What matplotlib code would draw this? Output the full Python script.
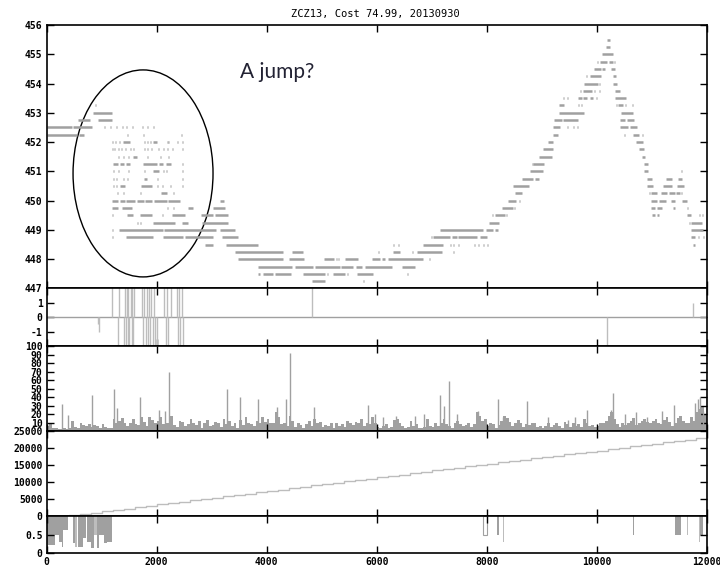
import numpy as np
import matplotlib
matplotlib.use('Agg')
import matplotlib.pyplot as plt
from matplotlib.patches import Ellipse

plt.rcParams['axes.unicode_minus'] = False

# ---- data ----
title = 'ZCZ13, Cost 74.99, 20130930'

# price levels and their runs (x0, x1) in sample index
price_runs = {
    455.5: [(10194, 10242)],
    455.25: [(10175, 10242)],
    455.0: [(10091, 10303)],
    454.75: [(10000, 10015), (10061, 10182), (10230, 10303), (10320, 10335)],
    454.5: [(9951, 10073), (10103, 10151), (10261, 10333)],
    454.25: [(9800, 9815), (9879, 10073), (10303, 10351)],
    454.0: [(9776, 10030), (10040, 10055), (10303, 10376)],
    453.75: [(9700, 9715), (9758, 9909), (9955, 9970), (10040, 10055), (10333, 10424)],
    453.5: [(9394, 9410), (9467, 9482), (9655, 9727), (9758, 9830), (9879, 9940),
            (9985, 10000), (10333, 10527)],
    453.25: [(880, 900), (9315, 9412), (9655, 9670), (9715, 9730), (10350, 10365),
             (10394, 10473), (10515, 10530), (10560, 10575), (10636, 10650)],
    453.0: [(836, 1181), (9315, 9770), (10442, 10654)],
    452.75: [(575, 787), (939, 1181), (9224, 9364), (9394, 9667), (10424, 10515),
             (10545, 10679)],
    452.5: [(0, 454), (484, 818), (1042, 1060), (1150, 1168), (1260, 1278), (1363, 1381),
            (1442, 1460), (1545, 1563), (1727, 1745), (1818, 1836), (1927, 1945),
            (9200, 9333), (9467, 9482), (9575, 9590), (9636, 9651), (10424, 10576),
            (10606, 10739)],
    452.25: [(0, 545), (593, 678), (1454, 1472), (1745, 1763), (2442, 2460), (9200, 9303),
             (10490, 10505), (10667, 10770), (10818, 10833)],
    452.0: [(1181, 1196), (1242, 1257), (1315, 1330), (1393, 1515), (1769, 1784),
            (1818, 1833), (1878, 1893), (1939, 2000), (2181, 2196), (2212, 2227),
            (2363, 2378), (2454, 2469), (9121, 9212), (10709, 10848)],
    451.75: [(1181, 1196), (1230, 1245), (1290, 1305), (1350, 1365), (1424, 1439),
             (1515, 1530), (1563, 1578), (1769, 1784), (1830, 1845), (1890, 1905),
             (1960, 1975), (2030, 2045), (2121, 2136), (2181, 2196), (2272, 2287),
             (2454, 2469), (9030, 9212), (10770, 10860)],
    451.5: [(1302, 1317), (1393, 1408), (1484, 1499), (1563, 1640), (1818, 1833),
            (1908, 1923), (2060, 2075), (2212, 2227), (8952, 9194), (10818, 10879)],
    451.25: [(1211, 1300), (1330, 1400), (1440, 1515), (1745, 1999), (2048, 2120),
             (2170, 2254), (2454, 2469), (8818, 8833), (8850, 9048), (10867, 10927)],
    451.0: [(1211, 1226), (1290, 1305), (1484, 1499), (1769, 1784), (1939, 2048),
            (2109, 2124), (2163, 2178), (2454, 2469), (8788, 9030), (10867, 10927),
            (11527, 11542)],
    450.75: [(1211, 1226), (1260, 1275), (1393, 1408), (1466, 1481), (1769, 1818),
             (1908, 1923), (1999, 2014), (2454, 2469), (8649, 8849), (8879, 8958),
             (10909, 11000), (11260, 11376), (11473, 11545)],
    450.5: [(1211, 1226), (1260, 1275), (1333, 1424), (1708, 1908), (2012, 2027),
            (2090, 2105), (2242, 2257), (2454, 2469), (8485, 8776), (10921, 11018),
            (11212, 11376), (11455, 11588)],
    450.25: [(1284, 1299), (1393, 1408), (1696, 1711), (2078, 2181), (2303, 2318),
             (8515, 8636), (10955, 10970), (10988, 11091), (11164, 11285),
             (11321, 11424), (11442, 11515), (11540, 11555)],
    450.0: [(1181, 1300), (1330, 1420), (1450, 1600), (1640, 1760), (1790, 1908),
            (1951, 2180), (2200, 2423), (3151, 3223), (8394, 8527), (8594, 8609),
            (10982, 11091), (11133, 11260), (11352, 11425), (11545, 11648)],
    449.75: [(1181, 1290), (1363, 1545), (2181, 2196), (2303, 2318), (2563, 2666),
             (3030, 3242), (8273, 8485), (8500, 8515), (10988, 11061), (11091, 11182),
             (11382, 11424), (11636, 11651)],
    449.5: [(1193, 1208), (1454, 1575), (1696, 1909), (2090, 2105), (2272, 2514),
            (2805, 3030), (3060, 3303), (8100, 8115), (8150, 8333), (8350, 8365),
            (11000, 11061), (11091, 11130), (11636, 11709), (11865, 11880),
            (11909, 11924)],
    449.25: [(1636, 1651), (1696, 1711), (1939, 2333), (2454, 2575), (2817, 3303),
             (8049, 8230), (11680, 11695), (11709, 11909)],
    449.0: [(1181, 1196), (1321, 2108), (2133, 3078), (3151, 3423), (7151, 7939),
            (7988, 8109), (8151, 8212), (11715, 11939)],
    448.75: [(1193, 1208), (1442, 1927), (2121, 2484), (2514, 3030), (3181, 3484),
             (6988, 7003), (7030, 7333), (7360, 7460), (7485, 7818), (7879, 8012),
             (11715, 11788), (11848, 11863), (11939, 11954)],
    448.5: [(2878, 3030), (3260, 3848), (6303, 6318), (6382, 6397), (6836, 7212),
            (7333, 7348), (7382, 7397), (7485, 7500), (7776, 7791), (7848, 7863),
            (7939, 7954), (8000, 8030), (11757, 11788)],
    448.25: [(3423, 4302), (4453, 4666), (6030, 6045), (6303, 6424), (6636, 6651),
             (6727, 7182), (7394, 7409)],
    448.0: [(3484, 4291), (4412, 4685), (5049, 5224), (5260, 5275), (5300, 5315),
            (5424, 5655), (5921, 6061), (6090, 6150), (6200, 6848), (6951, 6966)],
    447.75: [(3848, 4455), (4515, 4836), (4879, 5333), (5352, 5576), (5618, 5739),
             (5788, 6273), (6455, 6697)],
    447.5: [(3848, 3870), (3940, 4121), (4152, 4437), (4667, 5061), (5090, 5105),
            (5200, 5424), (5461, 5476), (5636, 5939), (6545, 6560)],
    447.25: [(4818, 5061), (5745, 5760)],
}

# jump indicator impulses
jump_x = [927, 957, 1193, 1320, 1424, 1454, 1484, 1527, 1557, 1593, 1739, 1769, 1818,
          1860, 1890, 1951, 2139, 2181, 2254, 2375, 2405, 2454,
          1302, 1405, 1442, 1472, 1502, 1545, 1575, 1757, 1799, 1848, 1878, 1927,
          1969, 1999, 2169, 2212, 2393, 2424, 2472, 4823, 10193, 11757]
jump_val = [-0.5, -1, 3, 3, 3, 3, 3, 3, 3, 3, 3, 3, 3,
            3, 3, 3, 3, 3, 3, 3, 3, 3,
            -3, -3, -3, -3, -3, -3, -3, -3, -3, -3, -3, -3,
            -3, -3, -3, -3, -3, -3, -3, 3, -3, 1]

# volume, one value per 50 samples
vol_vals = [
    6, 10, 4, 3, 2, 2, 3, 2, 3, 12, 5, 3, 9, 7, 6, 8, 5, 7, 6, 4,
    8, 5, 3, 3, 14, 10, 12, 15, 9, 6, 10, 14, 8, 7, 17, 11, 6, 16, 13, 9,
    12, 16, 8, 10, 9, 18, 7, 5, 12, 11, 6, 8, 14, 9, 7, 12, 4, 9, 13, 6,
    7, 11, 9, 5, 14, 8, 12, 6, 9, 4, 13, 7, 16, 10, 8, 6, 12, 9, 17, 11,
    14, 10, 9, 22, 16, 8, 10, 6, 18, 12, 5, 10, 7, 4, 8, 12, 6, 14, 9, 11,
    5, 7, 6, 9, 4, 10, 6, 8, 5, 12, 10, 7, 11, 9, 14, 6, 9, 8, 16, 10,
    5, 3, 6, 8, 4, 5, 13, 14, 9, 6, 4, 5, 12, 6, 8, 4, 3, 5, 14, 6,
    5, 9, 6, 10, 14, 8, 6, 4, 9, 12, 8, 6, 7, 10, 5, 8, 22, 18, 12, 14,
    6, 10, 8, 4, 7, 12, 18, 15, 11, 6, 9, 13, 10, 5, 8, 7, 10, 9, 5, 6,
    4, 6, 9, 5, 7, 10, 6, 4, 11, 8, 5, 9, 6, 8, 5, 14, 9, 6, 7, 5,
    6, 9, 10, 12, 18, 22, 14, 8, 5, 9, 7, 10, 12, 15, 7, 9, 12, 14, 11, 10,
    12, 14, 10, 8, 13, 16, 11, 6, 10, 15, 18, 12, 10, 9, 17, 12, 22, 26, 30, 20,
]
spike_x = [272, 381, 830, 1229, 1284, 1696, 2042, 2150, 2224, 3272, 3514, 3836, 4181,
           4350, 4423, 4866, 5847, 5969, 6108, 6350, 6696, 6866, 7151, 7223, 7314,
           7454, 7848, 8199, 8302, 8726, 9120, 9484, 9605, 9829, 10253, 10302, 10514,
           10708, 10908, 11181, 11411, 11787, 11848, 11878, 11938]
spike_val = [32, 19, 42, 50, 27, 40, 25, 24, 69, 50, 40, 38, 28,
             38, 92, 28, 31, 20, 16, 18, 18, 20, 42, 30, 59,
             20, 24, 38, 17, 35, 17, 13, 17, 25, 25, 45, 20,
             22, 17, 24, 31, 33, 38, 40, 24]

# cumulative count, one value per 200 samples
cum_vals = [0, 0, 250, 600, 1000, 1450, 1800, 2200, 2650, 3000,
            3400, 3850, 4200, 4600, 5050, 5400, 5800, 6250, 6600, 7000,
            7450, 7800, 8200, 8650, 9000, 9400, 9850, 10200, 10600, 11000,
            11450, 11850, 12200, 12600, 13050, 13400, 13800, 14250, 14600, 15000,
            15400, 15800, 16200, 16600, 17000, 17400, 17750, 18150, 18500, 18900,
            19250, 19650, 20050, 20450, 20850, 21300, 21700, 22100, 22500, 22950, 23300]

# fill ratio bars hanging from 1: (x0, x1, value, face)
fill_x0 = [0, 30, 151, 230, 272, 302, 472, 515, 575, 666, 739, 799, 860, 920, 957,
           1042, 1102, 7939, 8194, 8300, 10654, 11424, 11636, 11866, 11880]
fill_x1 = [30, 151, 230, 272, 302, 393, 515, 557, 666, 714, 799, 860, 920, 957, 1042,
           1102, 1187, 8012, 8230, 8310, 10678, 11527, 11650, 11880, 11939]
fill_val = [0.17, 0.23, 0.48, 0.30, 0.17, 0.62, 0.26, 0.17, 0.17, 0.40, 0.30, 0.14,
            0.48, 0.14, 0.48, 0.26, 0.30, 0.48, 0.48, 0.30, 0.48, 0.48, 0.48, 0.30, 0.48]
fill_face = ['d', 'd', 'd', 'd', 'd', 'd', 'd', 'l', 'd', 'd', 'd', 'd', 'l', 'd', 'd',
             'd', 'd', 'w', 'd', 'l', 'd', 'd', 'l', 'l', 'd']

xticks = [0, 2000, 4000, 6000, 8000, 10000, 12000]

# ---- figure ----
gray = '#a0a0a0'
light = '#bdbdbd'
tick_font = {'family': 'DejaVu Sans Mono', 'size': 7, 'weight': 'bold'}

fig = plt.figure(figsize=(7.2, 5.69), dpi=100)
L, W = 0.0649, 0.9167
ax1 = fig.add_axes([L, 0.4930, W, 0.4631])
ax2 = fig.add_axes([L, 0.3919, W, 0.1011])
ax3 = fig.add_axes([L, 0.2425, W, 0.1494])
ax4 = fig.add_axes([L, 0.0931, W, 0.1494])
ax5 = fig.add_axes([L, 0.0281, W, 0.0650])

# price panel
for level, runs in price_runs.items():
    for x0, x1 in runs:
        ax1.hlines(level, x0, max(x1, x0 + 15), color=gray, lw=1.8, capstyle='butt')
ax1.add_patch(Ellipse((1751, 450.93), 2545, 7.07, fill=False, edgecolor='black', lw=1))
ax1.text(3515, 454.4, 'A jump?', fontsize=15, family='Lato', color='#222233',
         va='center', ha='left')
ax1.set_ylim(447, 456)
ax1.set_yticks(range(447, 457))

# jump panel
ax2.axhline(0, color=gray, lw=1)
ax2.vlines(jump_x, 0, jump_val, color=light, lw=1)
ax2.set_ylim(-2, 2)
ax2.set_yticks([-1, 0, 1])

# volume panel
vol_x = np.arange(len(vol_vals)) * 50
ax3.bar(vol_x, vol_vals, width=50, align='edge', color=gray, linewidth=0)
ax3.vlines(spike_x, 0, spike_val, color=gray, lw=1)
ax3.set_ylim(0, 100)
ax3.set_yticks(range(10, 101, 10))

# cumulative panel
cum_x = np.arange(len(cum_vals)) * 200
ax4.step(cum_x, cum_vals, where='post', color=light, lw=1)
ax4.set_ylim(0, 25000)
ax4.set_yticks(range(0, 25001, 5000))

# fill ratio panel
faces = {'d': gray, 'l': light, 'w': 'white'}
for x0, x1, v, f in zip(fill_x0, fill_x1, fill_val, fill_face):
    ax5.bar(x0, v - 1, width=x1 - x0, bottom=1, align='edge', color=faces[f],
            edgecolor=gray if f == 'w' else 'none', linewidth=0.8)
ax5.set_ylim(0, 1)
ax5.set_yticks([0, 0.5])
ax5.set_yticklabels(['0', '0.5'])

for ax in [ax1, ax2, ax3, ax4, ax5]:
    ax.set_xlim(0, 12000)
    ax.set_xticks(xticks)
    ax.tick_params(direction='in', length=5, width=1, top=True, right=True,
                   labelbottom=(ax is ax5), pad=3)
    for s in ax.spines.values():
        s.set_linewidth(1.2)
    for lab in ax.get_yticklabels() + ax.get_xticklabels():
        lab.set_fontproperties(tick_font)
        lab.set_fontsize(7)
        lab.set_fontweight('bold')

fig.text(0.522, 0.976, title, ha='center', va='center', family='DejaVu Sans Mono',
         fontsize=7.5)

plt.savefig('out.png', dpi=100)
